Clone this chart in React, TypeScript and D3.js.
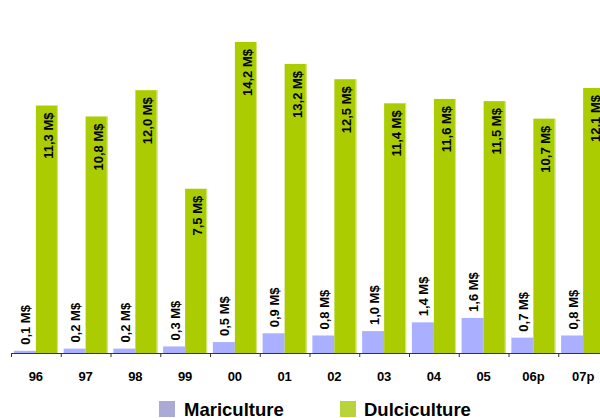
import React from "react";
import * as d3 from "d3";

const categories = ["96", "97", "98", "99", "00", "01", "02", "03", "04", "05", "06p", "07p"];
const mariculture = [0.1, 0.2, 0.2, 0.3, 0.5, 0.9, 0.8, 1.0, 1.4, 1.6, 0.7, 0.8];
const dulciculture = [11.3, 10.8, 12.0, 7.5, 14.2, 13.2, 12.5, 11.4, 11.6, 11.5, 10.7, 12.1];
const seriesNames = ["Mariculture", "Dulciculture"];

const fmt = (v: number) => v.toFixed(1).replace(".", ",") + " M$";

export default function App() {
  const W = 600, H = 418;
  const baseY = 353;
  const x = d3.scaleBand<string>().domain(categories).range([11, 11 + 12 * 49.75]).padding(0);
  const sub = d3.scaleBand<string>().domain(seriesNames).range([0, x.bandwidth()]).paddingInner(0).paddingOuter(0.13);
  const y = d3.scaleLinear().domain([0, 14.2]).range([baseY, 42]);
  const font = "'Liberation Sans', Arial, sans-serif";
  const blue = "#aab0ff";
  const green = "#aacc00";
  return (
    <svg width={W} height={H} style={{ position: "absolute", left: 0, top: 0, background: "#fff" }} fontFamily={font}>
      {categories.map((c, i) => {
        const x0 = x(c)!;
        const bx = x0 + sub("Mariculture")!;
        const gx = x0 + sub("Dulciculture")!;
        const bw = sub.bandwidth();
        const mv = mariculture[i], dv = dulciculture[i];
        const by = y(mv), gy = y(dv);
        return (
          <g key={c}>
            <rect x={bx} y={by} width={bw} height={baseY - by} fill={blue} />
            <rect x={gx} y={gy} width={bw} height={baseY - gy} fill={green} />
            <line x1={gx + bw - 0.5} x2={gx + bw - 0.5} y1={gy} y2={baseY} stroke="#d6e98a" strokeWidth={1} />
            <text transform={`translate(${bx + bw / 2 + 5.5},${by - 6}) rotate(-90)`} fontSize={13} fontWeight="bold" fill="#000" textAnchor="start">{fmt(mv)}</text>
            <text transform={`translate(${gx + bw / 2 + 6},${gy + 7}) rotate(-90)`} fontSize={13} fontWeight="bold" fill="#000" textAnchor="end">{fmt(dv)}</text>
            <line x1={x0 + 0.5} x2={x0 + 0.5} y1={baseY} y2={baseY + 4} stroke="#333" />
            <text x={x0 + x.bandwidth() / 2} y={381} fontSize={13} fontWeight="bold" textAnchor="middle" fill="#000">{c}</text>
          </g>
        );
      })}
      <line x1={11} x2={W} y1={baseY + 0.5} y2={baseY + 0.5} stroke="#333" />
      <rect x={159} y={401} width={16} height={16} fill="#aaaad4" />
      <text x={184} y={416} fontSize={18.5} fontWeight="bold" fill="#000">{seriesNames[0]}</text>
      <rect x={340} y={401} width={16} height={16} fill="#b8d43a" />
      <text x={364} y={416} fontSize={18.5} fontWeight="bold" fill="#000">{seriesNames[1]}</text>
    </svg>
  );
}
